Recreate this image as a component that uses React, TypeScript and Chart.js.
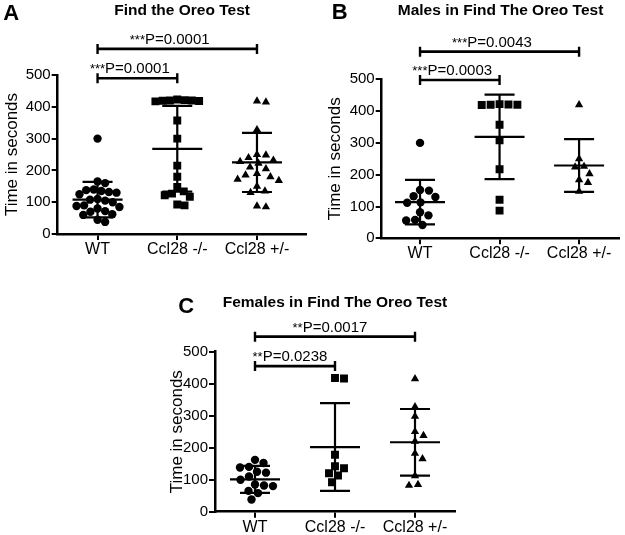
import React, { useEffect, useRef } from 'react';
import { Chart, registerables } from 'chart.js';

Chart.register(...registerables);

const FONT = '"Liberation Sans", Arial, Helvetica, sans-serif';

// ---------- data ----------
const categories = ['WT', 'Ccl28 -/-', 'Ccl28 +/-'];
const yTickValues = [0, 100, 200, 300, 400, 500];
const yAxisTitle = 'Time in seconds';

// Panel A: Find the Oreo Test
const aWT = [300, 165, 160, 140, 138, 135, 132, 130, 125, 110, 108, 105, 100, 90, 88, 85, 80, 72, 70, 62, 60, 45, 38];
const aKO = [423, 421, 420, 420, 419, 418, 417, 357, 300, 215, 180, 148, 134, 127, 122, 117, 93, 90];
const aHet = [418, 415, 328, 250, 248, 240, 232, 228, 222, 210, 205, 190, 185, 180, 172, 168, 150, 135, 130, 88, 85];
const aMean = [108, 268, 225];
const aSD = [56, 135, 93];
const aBracketTo = [2, 3];
const aBracketY = [490, 582];
const aBracketStars = ['***', '***'];
const aBracketP = ['P=0.0001', 'P=0.0001'];

// Panel B: Males
const bWT = [300, 152, 150, 132, 130, 113, 112, 82, 72, 58, 56, 42];
const bKO = [422, 421, 420, 420, 419, 357, 308, 217, 121, 87];
const bHet = [420, 250, 226, 224, 203, 184, 175, 148];
const bMean = [114, 319, 229];
const bSD = [70, 133, 83];
const bBracketTo = [2, 3];
const bBracketY = [498, 587];
const bBracketStars = ['***', '***'];
const bBracketP = ['P=0.0003', 'P=0.0043'];

// Panel C: Females
const cWT = [162, 152, 140, 138, 125, 122, 110, 100, 85, 82, 80, 65, 58, 38];
const cKO = [418, 416, 178, 142, 136, 120, 113, 92];
const cHet = [415, 328, 298, 250, 238, 220, 182, 165, 112, 85, 82];
const cMean = [101, 202, 217];
const cSD = [42, 137, 104];
const cBracketTo = [2, 3];
const cBracketY = [455, 547];
const cBracketStars = ['**', '**'];
const cBracketP = ['P=0.0238', 'P=0.0017'];

// ---------- layout / style ----------
const pointStyles = ['circle', 'rect', 'triangle'];
const pointRadii = [4.2, 5.6, 4.8];

type Spec = {
  letter: string; title: string;
  x0: number; y0: number; w: number; h: number;
  left: number; right: number; top: number; bottom: number;
  xMin: number; xMax: number; titlePad: number;
  letterX: number; letterY: number; titleY: number;
  groups: number[][]; means: number[]; sds: number[];
  bTo: number[]; bY: number[]; bStars: string[]; bP: string[];
};

const specs: Spec[] = [
  {
    letter: 'A', title: 'Find the Oreo Test',
    x0: 0, y0: 0, w: 312, h: 262, left: 57.7, right: 308, top: 75, bottom: 234,
    xMin: 0.5, xMax: 3.62, titlePad: 2.3, letterX: 3.3, letterY: 19.5, titleY: 15,
    groups: [aWT, aKO, aHet], means: aMean, sds: aSD,
    bTo: aBracketTo, bY: aBracketY, bStars: aBracketStars, bP: aBracketP,
  },
  {
    letter: 'B', title: 'Males in Find The Oreo Test',
    x0: 312, y0: 0, w: 313, h: 262, left: 69.7, right: 309.7, top: 79.3, bottom: 238.3,
    xMin: 0.518, xMax: 3.507, titlePad: 13.6, letterX: 19.7, letterY: 18.5, titleY: 15,
    groups: [bWT, bKO, bHet], means: bMean, sds: bSD,
    bTo: bBracketTo, bY: bBracketY, bStars: bBracketStars, bP: bBracketP,
  },
  {
    letter: 'C', title: 'Females in Find The Oreo Test',
    x0: 150, y0: 262, w: 320, h: 273, left: 65, right: 305, top: 89.7, bottom: 249.7,
    xMin: 0.5, xMax: 3.5, titlePad: 17.3, letterX: 28.3, letterY: 51.3, titleY: 44.7,
    groups: [cWT, cKO, cHet], means: cMean, sds: cSD,
    bTo: cBracketTo, bY: cBracketY, bStars: cBracketStars, bP: cBracketP,
  },
];

// simple beeswarm: horizontal offsets (in x data units) so markers don't overlap
function swarm(values: number[], pxPerX: number, pxPerY: number, d: number, maxHalf: number): number[] {
  const order = values.map((_, i) => i).sort((a, b) => values[b] - values[a]);
  const placed: { x: number; y: number }[] = [];
  const offs = new Array(values.length).fill(0);
  for (const idx of order) {
    const y = values[idx] * pxPerY;
    let chosen = 0;
    for (let k = 0; k < 400; k++) {
      const cand = k === 0 ? 0 : (k % 2 === 1 ? 1 : -1) * Math.ceil(k / 2) * 0.5;
      let ok = true;
      for (const p of placed) {
        const dx = cand - p.x, dy = y - p.y;
        if (dx * dx + dy * dy < d * d) { ok = false; break; }
      }
      if (ok) { chosen = cand; break; }
    }
    placed.push({ x: chosen, y });
    offs[idx] = chosen;
  }
  const m = Math.max(...offs.map(Math.abs));
  const s = m > maxHalf ? maxHalf / m : 1;
  return offs.map((o) => (o * s) / pxPerX);
}

function Panel({ spec }: { spec: Spec }) {
  const ref = useRef<HTMLCanvasElement | null>(null);
  useEffect(() => {
    if (!ref.current) return;
    const pxPerX = (spec.right - spec.left) / (spec.xMax - spec.xMin);
    const pxPerY = (spec.bottom - spec.top) / 500;
    const datasets = spec.groups.map((vals, gi) => {
      const offs = swarm(vals, pxPerX, pxPerY, 9, 22);
      return {
        type: 'scatter' as const,
        data: vals.map((v, i) => ({ x: gi + 1 + offs[i], y: v })),
        pointStyle: pointStyles[gi] as any,
        pointRadius: pointRadii[gi],
        pointHoverRadius: pointRadii[gi],
        backgroundColor: '#000',
        borderColor: '#000',
        borderWidth: 0,
        showLine: false,
      };
    });

    const statsPlugin = {
      id: 'stats',
      afterDatasetsDraw(chart: any) {
        const { ctx, scales } = chart;
        const xs = scales.x, ys = scales.y;
        ctx.save();
        ctx.strokeStyle = '#000';
        ctx.lineWidth = 2.2;
        spec.means.forEach((m, i) => {
          const cx = xs.getPixelForValue(i + 1);
          const yM = ys.getPixelForValue(m);
          const yHi = ys.getPixelForValue(m + spec.sds[i]);
          const yLo = ys.getPixelForValue(m - spec.sds[i]);
          ctx.beginPath();
          ctx.moveTo(cx - 25, yM); ctx.lineTo(cx + 25, yM);
          ctx.moveTo(cx, yHi); ctx.lineTo(cx, yLo);
          ctx.moveTo(cx - 15, yHi); ctx.lineTo(cx + 15, yHi);
          ctx.moveTo(cx - 15, yLo); ctx.lineTo(cx + 15, yLo);
          ctx.stroke();
        });
        ctx.restore();
      },
    };

    const annotPlugin = {
      id: 'annot',
      afterDraw(chart: any) {
        const { ctx, scales, chartArea } = chart;
        const xs = scales.x, ys = scales.y;
        ctx.save();
        ctx.fillStyle = '#000';
        ctx.strokeStyle = '#000';
        // panel letter
        ctx.font = `bold 22px ${FONT}`;
        ctx.textAlign = 'left';
        ctx.textBaseline = 'alphabetic';
        ctx.fillText(spec.letter, spec.letterX, spec.letterY);
        // title
        ctx.font = `bold 15.5px ${FONT}`;
        ctx.textAlign = 'center';
        ctx.fillText(spec.title, (chartArea.left + chartArea.right) / 2, spec.titleY);
        // brackets
        spec.bY.forEach((yv, i) => {
          const x1 = xs.getPixelForValue(1);
          const x2 = xs.getPixelForValue(spec.bTo[i]);
          const y = ys.getPixelForValue(yv);
          ctx.lineWidth = 2.6;
          ctx.beginPath();
          ctx.moveTo(x1, y); ctx.lineTo(x2, y);
          ctx.stroke();
          ctx.lineWidth = 2.4;
          ctx.beginPath();
          ctx.moveTo(x1, y - 5); ctx.lineTo(x1, y + 5);
          ctx.moveTo(x2, y - 5); ctx.lineTo(x2, y + 5);
          ctx.stroke();
          const mid = (x1 + x2) / 2;
          ctx.font = `15px ${FONT}`;
          ctx.textAlign = 'center';
          ctx.fillText(spec.bP[i], mid, y - 5);
          const wP = ctx.measureText(spec.bP[i]).width;
          ctx.font = `13px ${FONT}`;
          ctx.textAlign = 'right';
          ctx.fillText(spec.bStars[i], mid - wP / 2, y - 5);
        });
        ctx.restore();
      },
    };

    const tickGrid = {
      display: true,
      drawOnChartArea: false,
      drawTicks: true,
      tickLength: 6,
      color: '#000',
      lineWidth: 2,
    };

    const chart = new Chart(ref.current, {
      type: 'scatter',
      data: { datasets },
      options: {
        responsive: false,
        animation: false,
        events: [],
        layout: {
          padding: {
            left: 0,
            top: spec.top,
            right: spec.w - spec.right,
            bottom: spec.h - spec.bottom - 22,
          },
        },
        plugins: {
          legend: { display: false },
          tooltip: { enabled: false },
          title: { display: false },
        },
        scales: {
          x: {
            type: 'linear',
            min: spec.xMin,
            max: spec.xMax,
            afterFit: (s: any) => { s.height = 22; },
            afterBuildTicks: (s: any) => { s.ticks = categories.map((_, i) => ({ value: i + 1 })); },
            ticks: {
              callback: (v: any) => categories[Math.round(Number(v)) - 1] ?? '',
              font: { family: FONT, size: 16 },
              color: '#000',
              padding: 0,
              autoSkip: false,
              maxRotation: 0,
            },
            grid: tickGrid,
            border: { display: true, color: '#000', width: 2.5 },
          },
          y: {
            type: 'linear',
            min: 0,
            max: 500,
            afterFit: (s: any) => { s.width = spec.left; },
            afterBuildTicks: (s: any) => { s.ticks = yTickValues.map((v) => ({ value: v })); },
            ticks: {
              font: { family: FONT, size: 15 },
              color: '#000',
              padding: 1,
            },
            grid: tickGrid,
            border: { display: true, color: '#000', width: 2.5 },
            title: {
              display: true,
              text: yAxisTitle,
              color: '#000',
              font: { family: FONT, size: 17 },
              padding: { top: spec.titlePad, bottom: 0 },
            },
          },
        },
      },
      plugins: [statsPlugin, annotPlugin],
    } as any);
    return () => chart.destroy();
  }, [spec]);

  return (
    <canvas
      ref={ref}
      width={spec.w}
      height={spec.h}
      style={{ position: 'absolute', left: spec.x0, top: spec.y0, width: spec.w, height: spec.h }}
    />
  );
}

export default function App() {
  return (
    <div style={{ position: 'fixed', left: 0, top: 0, width: 625, height: 535, background: '#fff', overflow: 'hidden' }}>
      {specs.map((s) => (
        <Panel key={s.letter} spec={s} />
      ))}
    </div>
  );
}
